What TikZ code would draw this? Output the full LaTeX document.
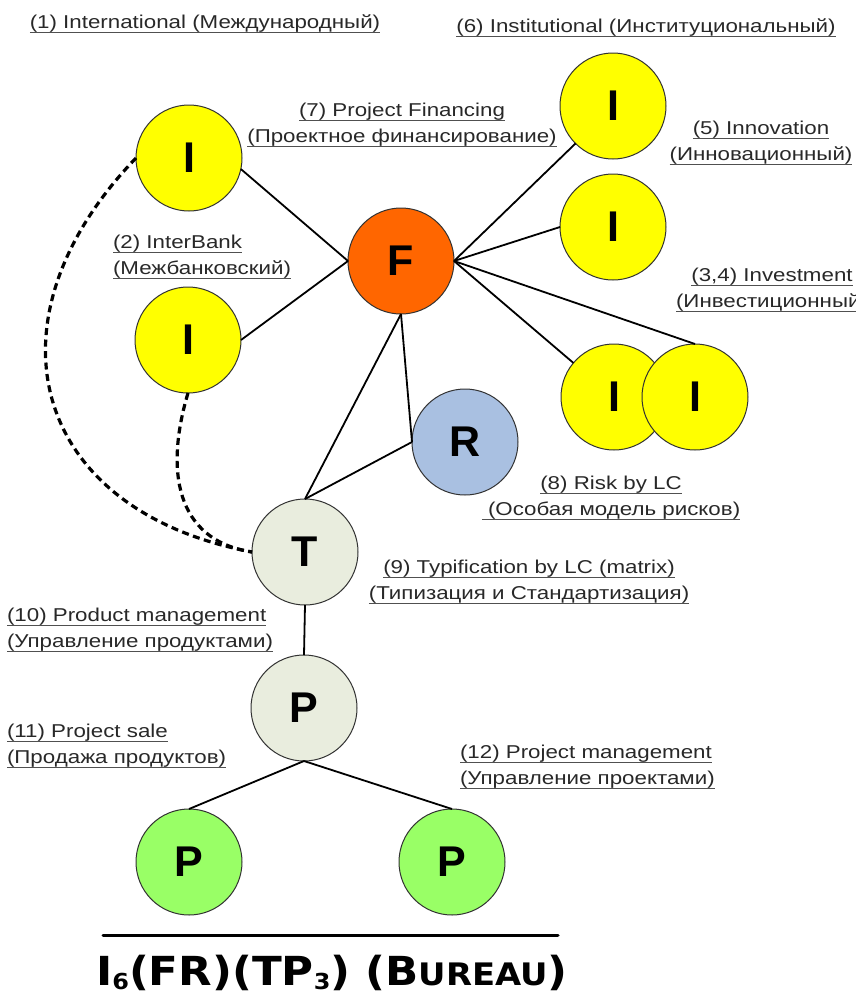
\documentclass[tikz,border=0pt]{standalone}
\usepackage{fontspec}
\setmainfont{Liberation Sans}
\newfontfamily\lblfont{Liberation Sans}[FakeStretch=1.2]
\newfontfamily\nodefont{Liberation Sans}
\newfontfamily\ttlfont{DejaVu Sans}[FakeStretch=1.09]
\definecolor{txtcol}{RGB}{40,40,40}
\definecolor{ulcol}{RGB}{80,80,80}
\definecolor{outl}{RGB}{50,50,50}
\definecolor{cyel}{RGB}{255,255,0}
\definecolor{corg}{RGB}{255,102,0}
\definecolor{cblu}{RGB}{169,192,225}
\definecolor{cgry}{RGB}{233,237,222}
\definecolor{cgrn}{RGB}{153,255,102}
\newcommand{\ulx}[1]{\leavevmode\setbox0=\hbox{#1}\rlap{\color{ulcol}\rule[-4.6pt]{\wd0}{1.4pt}}\box0}
\tikzset{
  lbl/.style={font=\lblfont\fontsize{18.6}{26}\selectfont, text=txtcol, inner sep=0pt, outer sep=0pt},
  circ/.style={circle, draw=outl, line width=1pt, minimum size=106pt, inner sep=0pt, outer sep=0pt,
    font=\nodefont\bfseries\fontsize{43}{43}\selectfont},
  yel/.style={circ, fill=cyel},
  conn/.style={line width=1.8pt, black},
  dashconn/.style={line width=3.2pt, black, dash pattern=on 7pt off 4.5pt}
}
\begin{document}
\begin{tikzpicture}[x=1pt,y=-1pt]
\useasboundingbox (0,0) rectangle (855,993);
% nodes
\node[yel] (I1) at (189,158) {I};
\node[yel] (I2) at (188,340) {I};
\node[circ, fill=corg] (F) at (401,261) {F};
\node[yel] (I6) at (613,106) {I};
\node[yel] (I5) at (613,227) {I};
\node[yel] (I3) at (614,397) {I};
\node[yel] (I4) at (695,397) {I};
\node[circ, fill=cblu] (R) at (465,442) {R};
\node[circ, fill=cgry] (T) at (305,552) {T};
\node[circ, fill=cgry] (P) at (304,708) {P};
\node[circ, fill=cgrn] (PL) at (189,862) {P};
\node[circ, fill=cgrn] (PR) at (452,862) {P};
% connectors
\draw[conn] (I1.-12) -- (F.west);
\draw[conn] (I2.east) -- (F.west);
\draw[conn] (F.east) -- (I6.south west);
\draw[conn] (F.east) -- (I5.west);
\draw[conn] (F.east) -- (I3.140);
\draw[conn] (F.east) -- (I4.north);
\draw[conn] (F.south) -- (T.north);
\draw[conn] (F.south) -- (R.west);
\draw[conn] (T.north) -- (R.west);
\draw[conn] (T.south) -- (P.north);
\draw[conn] (P.south) -- (PL.north);
\draw[conn] (P.south) -- (PR.north);
\draw[dashconn] (I1.west) .. controls (-20,320) and (30,510) .. (T.west);
\draw[dashconn] (I2.south) .. controls (165,470) and (175,540) .. (T.west);
% labels
\node[lbl] (l1) at (205,24) {\ulx{(1) International (Международный)}};
\node[lbl] (l6) at (646,28) {\ulx{(6) Institutional (Институциональный)}};
\node[lbl, align=center] (l7) at (402,125) {\ulx{(7) Project Financing}\\\ulx{(Проектное финансирование)}};
\node[lbl, align=center] (l5) at (761,143) {\ulx{(5) Innovation}\\\ulx{(Инновационный)}};
\node[lbl, align=center] (l34) at (772,290) {\ulx{(3,4) Investment}\\\ulx{(Инвестиционный)}};
\node[lbl, align=left, anchor=west] (l2) at (113,257) {\ulx{(2) InterBank}\\\ulx{(Межбанковский)}};
\node[lbl, align=center] (l8) at (611,498) {\ulx{(8) Risk by LC}\\\ulx{ (Особая модель рисков)}};
\node[lbl, align=center] (l9) at (529,582) {\ulx{(9) Typification by LC (matrix)}\\\ulx{(Типизация и Стандартизация)}};
\node[lbl, align=left, anchor=west] (l10) at (7,630) {\ulx{(10) Product management}\\\ulx{(Управление продуктами)}};
\node[lbl, align=left, anchor=west] (l11) at (7,746) {\ulx{(11) Project sale}\\\ulx{(Продажа продуктов)}};
\node[lbl, align=left, anchor=west] (l12) at (460,767) {\ulx{(12) Project management}\\\ulx{(Управление проектами)}};
% title
\coordinate (ba) at (103,935);
\coordinate (bb) at (558,935);
\draw[line width=3pt, line cap=round] (ba) -- (bb);
\node[anchor=base, inner sep=0pt, font=\ttlfont\bfseries\fontsize{40}{40}\selectfont] (title) at (332,985)
  {I\raisebox{-4pt}{\fontsize{22}{22}\selectfont 6}(FR)(TP\raisebox{-4pt}{\fontsize{22}{22}\selectfont 3}) (B{\fontsize{31}{31}\selectfont UREAU})};
\end{tikzpicture}
\end{document}
